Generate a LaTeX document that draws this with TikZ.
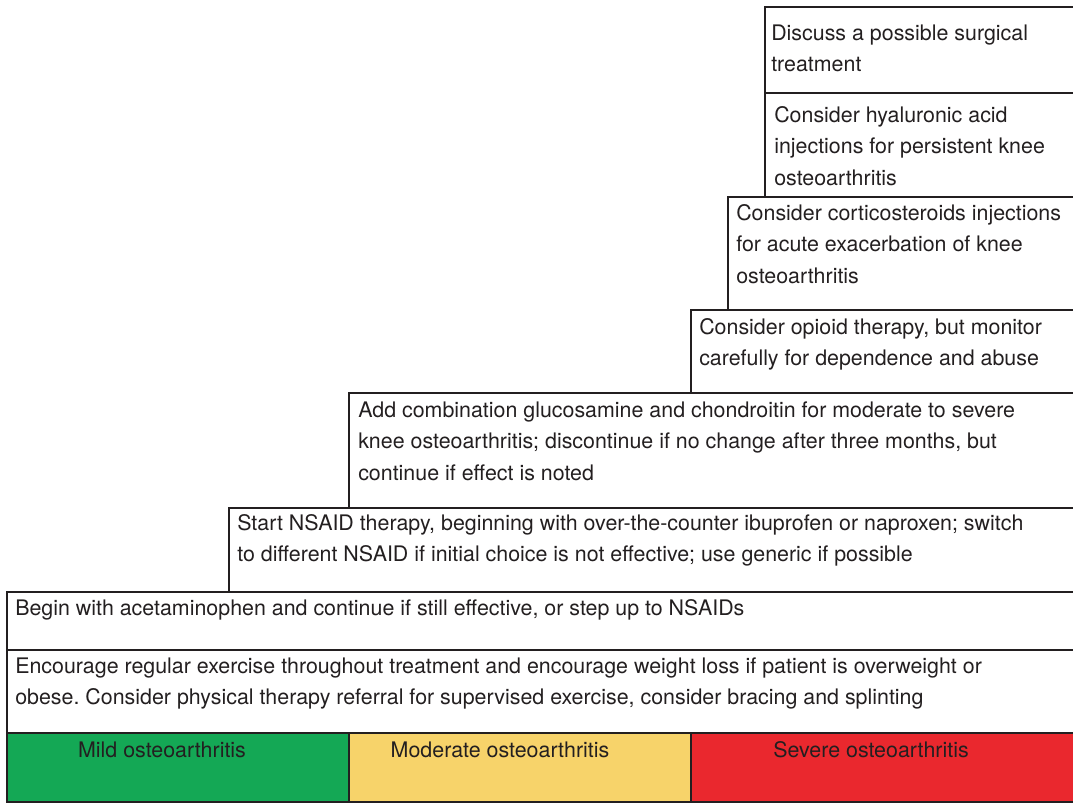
\documentclass[tikz,border=0pt]{standalone}
\usepackage{fontspec}
\setmainfont{TeX Gyre Heros}
\frenchspacing

\begin{document}
\begin{tikzpicture}[x=0.75pt, y=-0.75pt,
    boxline/.style={line width=1.5pt, draw=linecolor},
    steptext/.style={anchor=north west, inner sep=0pt, align=left, text=textcolor,
        font=\fontsize{16.05}{23.6}\selectfont},
    stagetext/.style={anchor=north, inner sep=0pt, text=textcolor,
        font=\fontsize{16.05}{23.6}\selectfont}]
    % Define colors
    \definecolor{linecolor}{RGB}{35, 31, 32}
    \definecolor{textcolor}{RGB}{35, 31, 32}
    \definecolor{mildcolor}{RGB}{20, 168, 85}
    \definecolor{moderatecolor}{RGB}{247, 211, 106}
    \definecolor{severecolor}{RGB}{234, 40, 46}

    \useasboundingbox (0, 0) rectangle (1073, 803);

    % Stage bar along the bottom
    \draw[boxline, fill=mildcolor] (6.5, 733) rectangle (349, 801.5);
    \draw[boxline, fill=moderatecolor] (349, 733) rectangle (691, 801.5);
    \draw[boxline, fill=severecolor] (691, 733) rectangle (1080, 801.5);
    \node[stagetext] (mild) at (162, 735) {\strut Mild osteoarthritis};
    \node[stagetext] (moderate) at (500, 735) {\strut Moderate osteoarthritis};
    \node[stagetext] (severe) at (871, 735) {\strut Severe osteoarthritis};

    % Steps, open to the right
    % Exercise (all stages)
    \draw[boxline] (1080, 650) -| (6.5, 733);
    \node[steptext] (exercise) at (15, 651) {\strut Encourage regular exercise throughout treatment and encourage weight loss if patient is overweight or\\
        obese. Consider physical therapy referral for supervised exercise, consider bracing and splinting};

    % Acetaminophen
    \draw[boxline] (1080, 592) -| (6.5, 650);
    \node[steptext] (acetaminophen) at (15, 593) {\strut Begin with acetaminophen and continue if still effective, or step up to NSAIDs};

    % NSAID
    \draw[boxline] (1080, 508) -| (229, 592);
    \node[steptext] (nsaid) at (237, 508) {\strut Start NSAID therapy, beginning with over-the-counter ibuprofen or naproxen; switch\\
        to different NSAID if initial choice is not effective; use generic if possible};

    % Glucosamine
    \draw[boxline] (1080, 393) -| (349, 508);
    \node[steptext] (glucosamine) at (358, 395) {\strut Add combination glucosamine and chondroitin for moderate to severe\\
        knee osteoarthritis; discontinue if no change after three months, but\\
        continue if effect is noted};

    % Opioid
    \draw[boxline] (1080, 310) -| (691, 393);
    \node[steptext] (opioid) at (699, 312) {\strut Consider opioid therapy, but monitor\\
        carefully for dependence and abuse};

    % Corticosteroids
    \draw[boxline] (1080, 197) -| (728, 310);
    \node[steptext] (steroid) at (736, 198) {\strut Consider corticosteroids injections\\
        for acute exacerbation of knee\\
        osteoarthritis};

    % Hyaluronic acid
    \draw[boxline] (1080, 93) -| (765, 197);
    \node[steptext] (hyaluronic) at (774, 100) {\strut Consider hyaluronic acid\\
        injections for persistent knee\\
        osteoarthritis};

    % Surgery (top)
    \draw[boxline] (1080, 7) -| (765, 93);
    \node[steptext] (surgery) at (771, 18) {\strut Discuss a possible surgical\\
        treatment};
\end{tikzpicture}
\end{document}
